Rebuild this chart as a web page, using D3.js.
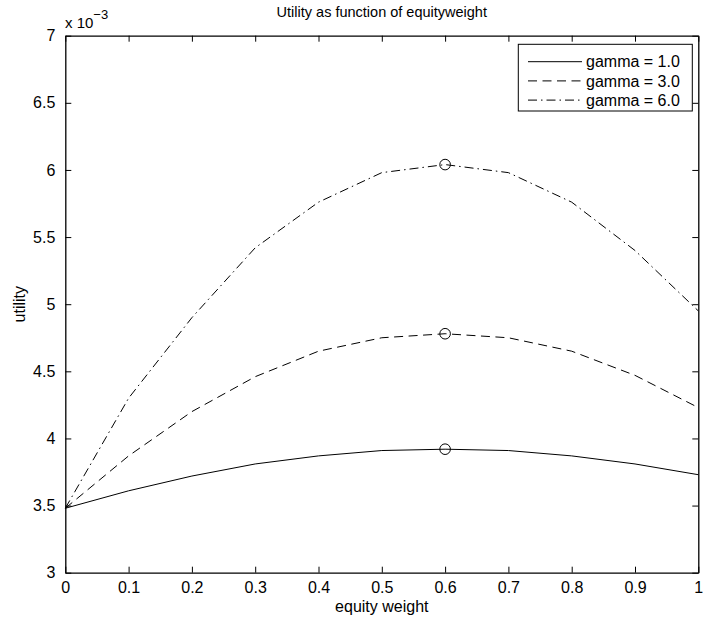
<!DOCTYPE html>
<html><head><meta charset="utf-8">
<script src="https://cdn.jsdelivr.net/npm/d3@7"></script>
<style>body{margin:0;background:#fff}svg{display:block}text{font-family:"Liberation Sans",Arial,sans-serif;fill:#000}</style>
</head><body>
<script>
const weights = [0, 0.1, 0.2, 0.3, 0.4, 0.5, 0.6, 0.7, 0.8, 0.9, 1.0];
const gamma1 = [3.48, 3.61, 3.72, 3.81, 3.87, 3.91, 3.92, 3.91, 3.87, 3.81, 3.73];
const gamma3 = [3.48, 3.87, 4.20, 4.46, 4.65, 4.75, 4.78, 4.75, 4.65, 4.47, 4.23];
const gamma6 = [3.48, 4.30, 4.90, 5.42, 5.76, 5.98, 6.04, 5.98, 5.76, 5.40, 4.95];
const seriesNames = ["gamma = 1.0", "gamma = 3.0", "gamma = 6.0"];
const xTicks = [0, 0.1, 0.2, 0.3, 0.4, 0.5, 0.6, 0.7, 0.8, 0.9, 1];
const yTicks = [3, 3.5, 4, 4.5, 5, 5.5, 6, 6.5, 7];
const optimumIndex = 6;

const W = 703, H = 619;
const m = {left: 65.3, right: W - 698.3, top: 35.7, bottom: H - 572.7};
const svg = d3.select("body").append("svg").attr("width", W).attr("height", H);
const x = d3.scaleLinear().domain([0, 1]).range([m.left, W - m.right]);
const y = d3.scaleLinear().domain([3, 7]).range([H - m.bottom, m.top]);
const fs = 16;

const series = [
  {name: seriesNames[0], vals: gamma1, dash: null},
  {name: seriesNames[1], vals: gamma3, dash: "9,5.5"},
  {name: seriesNames[2], vals: gamma6, dash: "9,4,1.5,4"}
];

const gx = svg.append("g").attr("transform", `translate(0,${y(3)})`)
  .call(d3.axisBottom(x).tickValues(xTicks).tickFormat(d3.format("")).tickSizeInner(-6).tickSizeOuter(0).tickPadding(9));
const gxt = svg.append("g").attr("transform", `translate(0,${y(7)})`)
  .call(d3.axisTop(x).tickValues(xTicks).tickFormat("").tickSizeInner(-6).tickSizeOuter(0));
const gy = svg.append("g").attr("transform", `translate(${x(0)},0)`)
  .call(d3.axisLeft(y).tickValues(yTicks).tickFormat(d3.format("")).tickSizeInner(-6).tickSizeOuter(0).tickPadding(10));
const gyr = svg.append("g").attr("transform", `translate(${x(1)},0)`)
  .call(d3.axisRight(y).tickValues(yTicks).tickFormat("").tickSizeInner(-6).tickSizeOuter(0));
[gx, gxt, gy, gyr].forEach(g => {
  g.selectAll("path.domain").attr("stroke", "#000").attr("stroke-width", 1.3);
  g.selectAll(".tick line").attr("stroke", "#000").attr("stroke-width", 1);
  g.selectAll("text").attr("font-size", fs).attr("font-family", '"Liberation Sans",Arial,sans-serif').attr("fill", "#000");
});
gx.selectAll(".tick text").attr("dy", "0.71em");

const line = d3.line().x((d, i) => x(weights[i])).y(d => y(d));
series.forEach(s => {
  svg.append("path").datum(s.vals).attr("d", line)
    .attr("fill", "none").attr("stroke", "#000").attr("stroke-width", 1)
    .attr("stroke-dasharray", s.dash);
  svg.append("circle").attr("cx", x(weights[optimumIndex])).attr("cy", y(s.vals[optimumIndex]))
    .attr("r", 5.3).attr("fill", "none").attr("stroke", "#000").attr("stroke-width", 1);
});

svg.append("text").attr("x", (x(0) + x(1)) / 2).attr("y", 17).attr("text-anchor", "middle")
  .attr("font-size", fs - 1.5).text("Utility as function of equityweight");
svg.append("text").attr("x", (x(0) + x(1)) / 2).attr("y", 612).attr("text-anchor", "middle")
  .attr("font-size", fs).text("equity weight");
svg.append("text").attr("transform", `translate(25,${(y(3) + y(7)) / 2}) rotate(-90)`).attr("text-anchor", "middle")
  .attr("font-size", fs).text("utility");
const ex = svg.append("text").attr("x", 65).attr("y", 28).attr("font-size", fs - 1);
ex.append("tspan").text("x 10");
ex.append("tspan").attr("dy", -9).attr("font-size", fs - 3).text("−3");

const lg = svg.append("g");
lg.append("rect").attr("x", 518.3).attr("y", 44.3).attr("width", 174).attr("height", 66.7)
  .attr("fill", "#fff").attr("stroke", "#000").attr("stroke-width", 1);
series.forEach((s, i) => {
  const ry = 61.7 + i * 19.2;
  lg.append("line").attr("x1", 528).attr("x2", 582).attr("y1", ry).attr("y2", ry)
    .attr("stroke", "#000").attr("stroke-width", 1).attr("stroke-dasharray", s.dash);
  lg.append("text").attr("x", 586).attr("y", ry).attr("dy", "0.35em").attr("font-size", fs).text(s.name);
});
</script>
</body></html>
